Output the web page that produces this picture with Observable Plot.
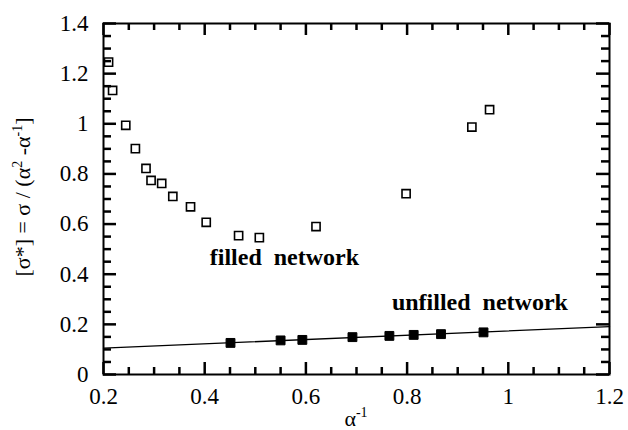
<!DOCTYPE html>
<html>
<head>
<meta charset="utf-8">
<script src="https://cdn.jsdelivr.net/npm/d3@7"></script>
<script src="https://cdn.jsdelivr.net/npm/@observablehq/plot@0.6"></script>
<style>
  html, body { margin: 0; padding: 0; background: #fff; }
  #chart svg { display: block; }
</style>
</head>
<body>
<div id="chart"></div>
<script>
// filled network (open squares)
const filledX = [0.210, 0.218, 0.244, 0.263, 0.284, 0.294, 0.315, 0.337, 0.372, 0.403, 0.467, 0.508, 0.620, 0.798, 0.928, 0.963];
const filledY = [1.246, 1.133, 0.994, 0.901, 0.822, 0.774, 0.762, 0.710, 0.669, 0.607, 0.554, 0.546, 0.590, 0.721, 0.987, 1.056];
// unfilled network (filled squares)
const unfilledX = [0.451, 0.550, 0.593, 0.692, 0.765, 0.813, 0.867, 0.951];
const unfilledY = [0.126, 0.136, 0.138, 0.149, 0.154, 0.158, 0.161, 0.168];
// fit line end points
const lineX = [0.2, 1.2];
const lineY = [0.105, 0.191];
// ticks
const xTicks = [0.2, 0.4, 0.6, 0.8, 1, 1.2];
const xMinor = [0.25, 0.3, 0.35, 0.45, 0.5, 0.55, 0.65, 0.7, 0.75, 0.85, 0.9, 0.95, 1.05, 1.1, 1.15];
const yTicks = [0, 0.2, 0.4, 0.6, 0.8, 1, 1.2, 1.4];
const yMinor = [0.05, 0.1, 0.15, 0.25, 0.3, 0.35, 0.45, 0.5, 0.55, 0.65, 0.7, 0.75, 0.85, 0.9, 0.95, 1.05, 1.1, 1.15, 1.25, 1.3, 1.35];
// annotations
const labelText = ["filled\u00a0\u00a0network", "unfilled\u00a0\u00a0network"];
const labelX = [0.41, 0.77];
const labelY = [0.467, 0.287];

const filled = filledX.map((x, i) => ({x, y: filledY[i]}));
const unfilled = unfilledX.map((x, i) => ({x, y: unfilledY[i]}));
const fit = lineX.map((x, i) => ({x, y: lineY[i]}));
const labels = labelText.map((t, i) => ({t, x: labelX[i], y: labelY[i]}));

const serif = "'Liberation Serif', 'Times New Roman', serif";
const fmt = d => String(d);
const INK = "#000";

const tickMarks = [];
for (const [ticks, len] of [[xTicks, 12], [xMinor, 7]]) {
  tickMarks.push(Plot.tickX(ticks, {x: d => d, insetTop: 351 - len, stroke: INK, strokeWidth: 2.5}));
  tickMarks.push(Plot.tickX(ticks, {x: d => d, insetBottom: 351 - len, stroke: INK, strokeWidth: 2.5}));
}
for (const [ticks, len] of [[yTicks, 13], [yMinor, 8]]) {
  tickMarks.push(Plot.tickY(ticks, {y: d => d, insetRight: 506 - len, stroke: INK, strokeWidth: 2.5}));
  tickMarks.push(Plot.tickY(ticks, {y: d => d, insetLeft: 506 - len, stroke: INK, strokeWidth: 2.5}));
}

const svg = Plot.plot({
  width: 628,
  height: 430,
  marginLeft: 103,
  marginRight: 19,
  marginTop: 23,
  marginBottom: 56,
  x: {domain: [0.2, 1.2]},
  y: {domain: [0, 1.4]},
  marks: [
    Plot.axisX({anchor: "bottom", ticks: xTicks, tickFormat: fmt, tickSize: 0, tickPadding: 13, label: null, fontSize: 23, fontFamily: serif, fill: INK}),
    Plot.axisY({anchor: "left", ticks: yTicks, tickFormat: fmt, tickSize: 0, tickPadding: 15, label: null, fontSize: 23, fontFamily: serif, fill: INK}),
    ...tickMarks,
    Plot.line(fit, {x: "x", y: "y", stroke: INK, strokeWidth: 1.3}),
    Plot.dot(filled, {x: "x", y: "y", symbol: "square", r: 4.6, stroke: INK, strokeWidth: 1.6, fill: "none"}),
    Plot.dot(unfilled, {x: "x", y: "y", symbol: "square", r: 5, fill: INK, stroke: INK, strokeWidth: 1}),
    Plot.text(labels, {x: "x", y: "y", text: "t", textAnchor: "start", fontWeight: "bold", fontSize: 24, fontFamily: serif, fill: INK}),
    Plot.frame({stroke: INK, strokeWidth: 2})
  ]
});

const s = d3.select(svg);
// y axis label
const yl = s.append("text")
  .attr("transform", "translate(30,197) rotate(-90)")
  .attr("text-anchor", "middle")
  .attr("font-family", serif)
  .attr("font-size", 22)
  .attr("fill", INK);
yl.append("tspan").text("[σ*] = σ / (α");
yl.append("tspan").attr("dy", -8).attr("font-size", 14).text("2");
yl.append("tspan").attr("dy", 8).text(" -α");
yl.append("tspan").attr("dy", -8).attr("font-size", 14).text("-1");
yl.append("tspan").attr("dy", 8).text("]");
// x axis label
const xl = s.append("text")
  .attr("x", 356)
  .attr("y", 426)
  .attr("text-anchor", "middle")
  .attr("font-family", serif)
  .attr("font-size", 22)
  .attr("fill", INK);
xl.append("tspan").text("α");
xl.append("tspan").attr("dy", -9).attr("font-size", 14).text("-1");

document.getElementById("chart").appendChild(svg);
</script>
</body>
</html>
